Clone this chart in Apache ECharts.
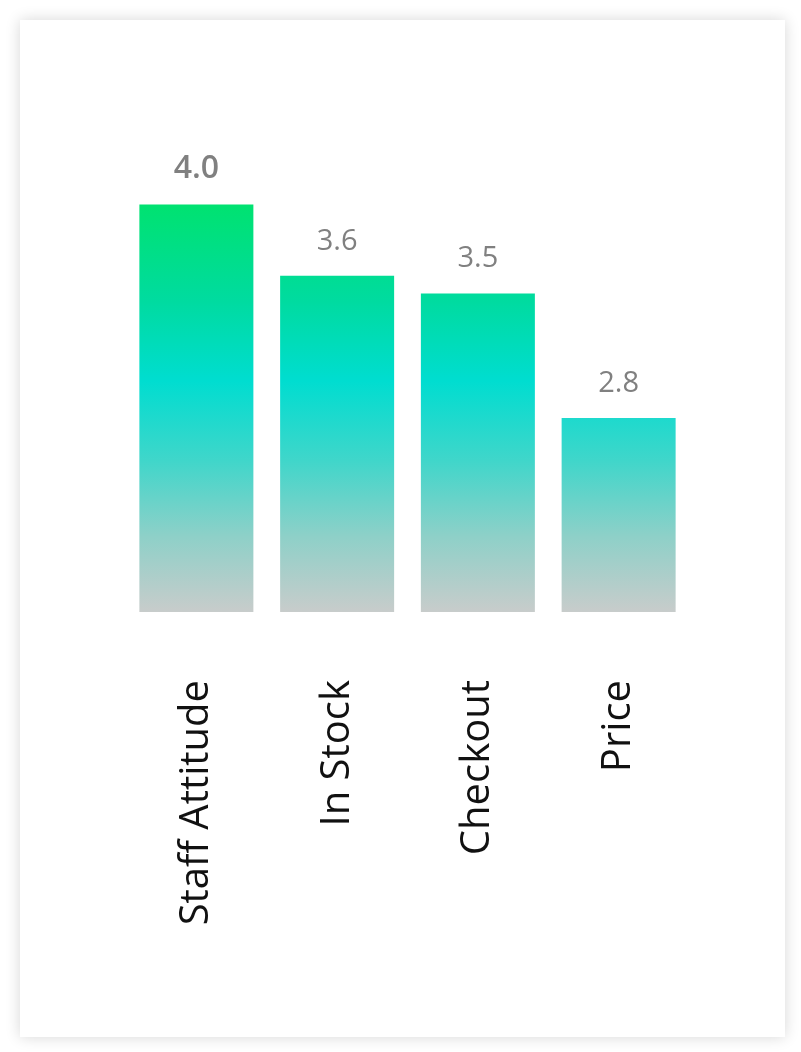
<!DOCTYPE html>
<html>
<head>
<meta charset="utf-8">
<script src="https://cdn.jsdelivr.net/npm/echarts@6/dist/echarts.min.js"></script>
<style>
    html, body { margin: 0; padding: 0; background: #fff; }
    #card {
        position: absolute; left: 20px; top: 20px; width: 765px; height: 1017px;
        background: #fff; box-shadow: 0 0 14px rgba(0, 0, 0, 0.16);
    }
    #chart { position: absolute; left: 0; top: 0; width: 801px; height: 1052px; }
</style>
</head>
<body>
<div id="card"></div>
<div id="chart"></div>
<script>
// data
var categories = ['Staff Attitude', 'In Stock', 'Checkout', 'Price'];
var scores = [4.0, 3.6, 3.5, 2.8];

var myChart = echarts.init(document.getElementById('chart'), null, {renderer: 'canvas'});

// one gradient for the whole plot, so every bar shares the same colour at a given height
var barColor = new echarts.graphic.LinearGradient(0, 192, 0, 612, [
    {offset: 0, color: '#00e36a'},
    {offset: 0.26, color: '#00dba0'},
    {offset: 0.45, color: '#00ddd0'},
    {offset: 0.64, color: '#40d6ca'},
    {offset: 0.82, color: '#8ed0c8'},
    {offset: 1, color: '#c8cccb'}
], true);

var barData = [];
for (var i = 0; i < scores.length; i++) {
    var item = {value: scores[i]};
    if (i === 0) {
        // highest score gets a heavier label
        item.label = {fontSize: 32, fontWeight: 600};
    }
    barData.push(item);
}

var option = {
    animation: false,
    grid: {
        left: 126,
        right: 112,
        top: 185,
        bottom: 440
    },
    xAxis: {
        type: 'category',
        data: categories,
        axisLine: {show: false},
        axisTick: {show: false},
        axisLabel: {
            rotate: 90,
            margin: 68,
            color: '#111',
            fontFamily: 'Open Sans',
            fontSize: 40
        }
    },
    yAxis: {
        type: 'value',
        min: 1.71,
        max: 4.11,
        show: false,
        splitLine: {show: false}
    },
    series: [{
        type: 'bar',
        barWidth: 114,
        data: barData,
        itemStyle: {color: barColor},
        label: {
            show: true,
            position: 'top',
            distance: 20,
            color: '#808080',
            fontFamily: 'Open Sans',
            fontSize: 29,
            formatter: function (p) { return p.value.toFixed(1); }
        }
    }]
};

myChart.setOption(option);
</script>
</body>
</html>
